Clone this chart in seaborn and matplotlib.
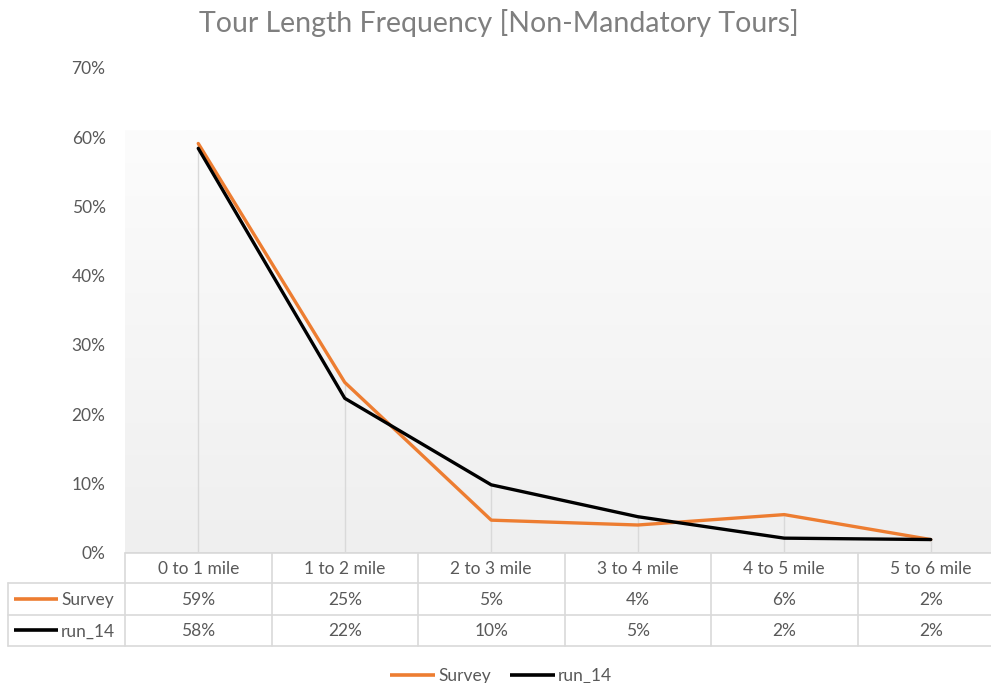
import numpy as np
import pandas as pd
import matplotlib
matplotlib.use("Agg")
import matplotlib.pyplot as plt
from matplotlib.colors import LinearSegmentedColormap
import seaborn as sns

categories = ["0 to 1 mile", "1 to 2 mile", "2 to 3 mile", "3 to 4 mile", "4 to 5 mile", "5 to 6 mile"]
survey = [0.591, 0.246, 0.047, 0.040, 0.055, 0.019]
run_14 = [0.584, 0.223, 0.098, 0.052, 0.021, 0.019]
series_names = ["Survey", "run_14"]
series_colors = ["#ED7D31", "#000000"]
yticks = [0, 0.1, 0.2, 0.3, 0.4, 0.5, 0.6, 0.7]

sns.set_theme(style="white")
plt.rcParams["font.family"] = ["Lato", "DejaVu Sans"]

W, H = 991, 683
fig = plt.figure(figsize=(W / 100, H / 100), dpi=100)
fig.patch.set_facecolor("white")

# layout in pixels
ax_left, ax_right = 125, 1004
ax_top, ax_bot = 68, 552.7
ax = fig.add_axes([ax_left / W, (H - ax_bot) / H, (ax_right - ax_left) / W, (ax_bot - ax_top) / H])
ax.set_facecolor("white")

n = len(categories)
xpos = np.arange(n)

# gradient background
grad = np.linspace(0, 1, 256).reshape(-1, 1)
cmap = LinearSegmentedColormap.from_list("g", ["#efefef", "#fcfcfc"])
ax.imshow(grad, aspect="auto", cmap=cmap, origin="lower",
          extent=[-0.5, n - 0.5, 0, 0.61], zorder=0)

# drop lines
tops = np.maximum(survey, run_14)
ax.vlines(xpos, 0, tops, colors="#d9d9d9", linewidth=1.0, zorder=1)

df = pd.DataFrame({
    "x": np.concatenate([xpos, xpos]),
    "value": survey + run_14,
    "series": [series_names[0]] * n + [series_names[1]] * n,
})
sns.lineplot(data=df, x="x", y="value", hue="series", palette=series_colors,
             linewidth=2.4, ax=ax, legend=False, zorder=3)

fs = 12.5
tc = "#595959"
ax.set_xlim(-0.5, n - 0.5)
ax.set_ylim(0, 0.7)
ax.set_yticks(yticks)
ax.set_yticklabels([f"{int(round(t * 100))}%" for t in yticks], color=tc, fontsize=fs)
ax.tick_params(axis="y", length=0, pad=14)
ax.set_xticks([])
ax.set_xlabel("")
ax.set_ylabel("")
for s in ax.spines.values():
    s.set_visible(False)
ax.axhline(0, color="#d9d9d9", linewidth=1.2, zorder=2)

fig.text(0.5 * (200 + 797) / W, 1 - 23 / H, "Tour Length Frequency [Non-Mandatory Tours]",
         ha="center", va="center", fontsize=20.5, color="#7f7f7f")

# data table overlay
ov = fig.add_axes([0, 0, 1, 1], facecolor="none")
ov.set_xlim(0, W)
ov.set_ylim(H, 0)
ov.axis("off")
colw = (ax_right - ax_left) / n
rows = [552.7, 583, 614.7, 646]
gc = "#d9d9d9"
lw = 1.2
ov.plot([ax_left, ax_right], [rows[0], rows[0]], color=gc, lw=lw)
for r in rows[1:]:
    ov.plot([8, ax_right], [r, r], color=gc, lw=lw)
ov.plot([8, 8], [rows[1], rows[3]], color=gc, lw=lw)
for i in range(n + 1):
    xx = ax_left + i * colw
    ov.plot([xx, xx], [rows[0], rows[3]], color=gc, lw=lw)
for i, c in enumerate(categories):
    cx = ax_left + (i + 0.5) * colw
    ov.text(cx, (rows[0] + rows[1]) / 2 + 1, c, ha="center", va="center", fontsize=fs, color=tc)
    for j, vals in enumerate([survey, run_14]):
        ov.text(cx, (rows[j + 1] + rows[j + 2]) / 2 + 1, f"{vals[i] * 100:.0f}%",
                ha="center", va="center", fontsize=fs, color=tc)
for j, (name, col) in enumerate(zip(series_names, series_colors)):
    yy = (rows[j + 1] + rows[j + 2]) / 2
    ov.plot([14, 58], [yy, yy], color=col, lw=2.6, solid_capstyle="butt")
    ov.text(61, yy + 1, name, ha="left", va="center", fontsize=fs, color=tc)

# bottom legend
leg_y = 675
for name, col, x0 in zip(series_names, series_colors, [390, 510]):
    ov.plot([x0, x0 + 45], [leg_y, leg_y], color=col, lw=2.6, solid_capstyle="butt")
    ov.text(x0 + 48, leg_y + 1, name, ha="left", va="center", fontsize=fs, color=tc)

fig.savefig("out.png", dpi=100)
